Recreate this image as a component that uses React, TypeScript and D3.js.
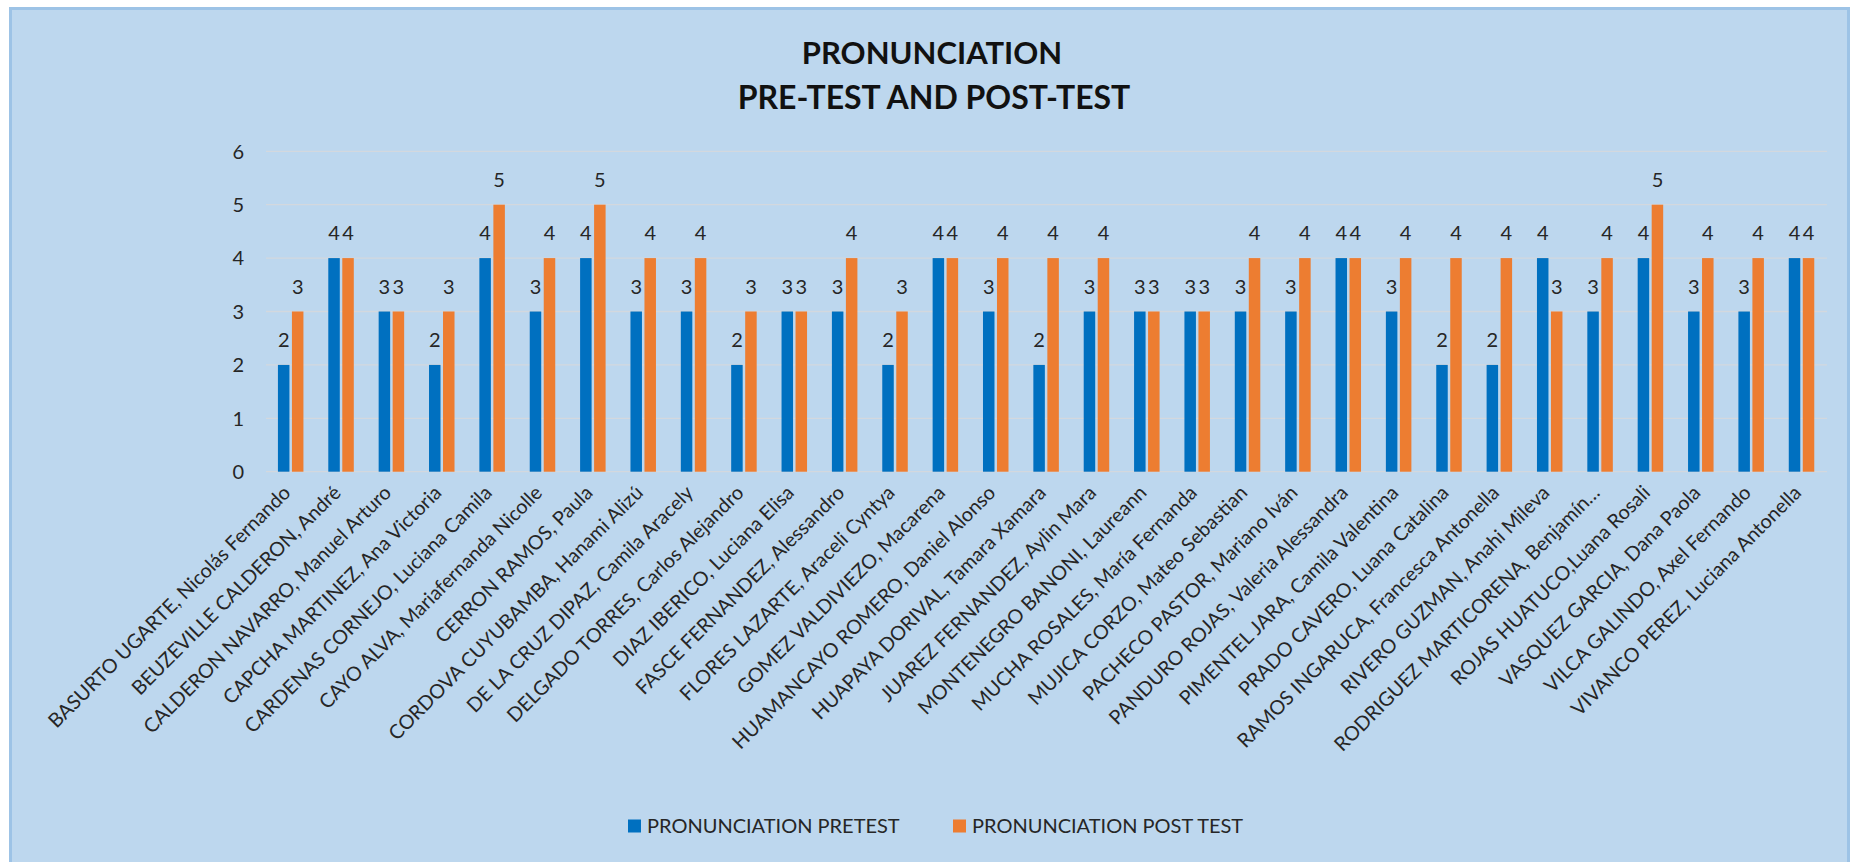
import React from "react";
import * as d3 from "d3";

const categories = [
  "BASURTO UGARTE, Nicolás Fernando",
  "BEUZEVILLE CALDERON, André",
  "CALDERON NAVARRO, Manuel Arturo",
  "CAPCHA MARTINEZ, Ana Victoria",
  "CARDENAS CORNEJO, Luciana Camila",
  "CAYO ALVA, Mariafernanda Nicolle",
  "CERRON RAMOS, Paula",
  "CORDOVA CUYUBAMBA, Hanami Alizú",
  "DE LA CRUZ DIPAZ, Camila Aracely",
  "DELGADO TORRES, Carlos Alejandro",
  "DIAZ IBERICO, Luciana Elisa",
  "FASCE FERNANDEZ, Alessandro",
  "FLORES LAZARTE, Araceli Cyntya",
  "GOMEZ VALDIVIEZO, Macarena",
  "HUAMANCAYO ROMERO, Daniel Alonso",
  "HUAPAYA DORIVAL, Tamara Xamara",
  "JUAREZ FERNANDEZ, Aylin Mara",
  "MONTENEGRO BANONI, Laureann",
  "MUCHA ROSALES, María Fernanda",
  "MUJICA CORZO, Mateo Sebastian",
  "PACHECO PASTOR, Mariano Iván",
  "PANDURO ROJAS, Valeria Alessandra",
  "PIMENTEL JARA, Camila Valentina",
  "PRADO CAVERO, Luana Catalina",
  "RAMOS INGARUCA, Francesca Antonella",
  "RIVERO GUZMAN, Anahi Mileva",
  "RODRIGUEZ MARTICORENA, Benjamín…",
  "ROJAS HUATUCO,Luana Rosali",
  "VASQUEZ GARCIA, Dana Paola",
  "VILCA GALINDO, Axel Fernando",
  "VIVANCO PEREZ, Luciana Antonella",
];

const pretest = [2, 4, 3, 2, 4, 3, 4, 3, 3, 2, 3, 3, 2, 4, 3, 2, 3, 3, 3, 3, 3, 4, 3, 2, 2, 4, 3, 4, 3, 3, 4];
const posttest = [3, 4, 3, 3, 5, 4, 5, 4, 4, 3, 3, 4, 3, 4, 4, 4, 4, 3, 3, 4, 4, 4, 4, 4, 4, 3, 4, 5, 4, 4, 4];
const yTicks = [0, 1, 2, 3, 4, 5, 6];
const seriesNames = ["PRONUNCIATION PRETEST", "PRONUNCIATION POST TEST"];
const titleLines = ["PRONUNCIATION", "PRE-TEST AND POST-TEST"];

const W = 1854;
const H = 862;
const FONT = "Lato, 'Open Sans', sans-serif";
const BLUE = "#0070C0";
const ORANGE = "#ED7D31";
const BG = "#BDD7EE";
const GRID = "#D3D8DE";
const TXT = "#262626";

export default function App() {
  const x = d3.scaleBand<string>().domain(categories).range([265.5, 1826.7]).paddingInner(0).paddingOuter(0);
  const y = d3.scaleLinear().domain([0, 6]).range([471.7, 151.3]);
  const barW = 11.5;
  const off = 7;
  const series = [
    { name: seriesNames[0], values: pretest, color: BLUE, dx: -off },
    { name: seriesNames[1], values: posttest, color: ORANGE, dx: off },
  ];

  return (
    <svg
      width={W}
      height={H}
      style={{ position: "absolute", left: 0, top: 0, display: "block" }}
      xmlns="http://www.w3.org/2000/svg"
    >
      <rect x={0} y={0} width={W} height={H} fill="#ffffff" />
      <rect x={10.5} y={8.5} width={1838} height={H + 20} fill={BG} stroke="#9DC3E6" strokeWidth={3} />

      {/* title */}
      <text x={932} y={64.3} textAnchor="middle" fontFamily={FONT} fontWeight={700} fontSize={31} fill="#111">
        {titleLines[0]}
      </text>
      <text x={934} y={109} textAnchor="middle" fontFamily={FONT} fontWeight={700} fontSize={32} fill="#111">
        {titleLines[1]}
      </text>

      {/* gridlines & y ticks */}
      {yTicks.map((t) => (
        <g key={t}>
          <line x1={266} x2={1827} y1={y(t)} y2={y(t)} stroke={GRID} strokeWidth={1.3} />
          <text
            x={244}
            y={y(t)}
            dy="0.36em"
            textAnchor="end"
            fontFamily={FONT}
            fontSize={20}
            fill={TXT}
          >
            {t}
          </text>
        </g>
      ))}

      {/* bars */}
      {series.map((s) =>
        categories.map((c, i) => {
          const cx = (x(c) as number) + x.bandwidth() / 2 + s.dx;
          return (
            <rect
              key={s.name + i}
              x={cx - barW / 2}
              y={y(s.values[i])}
              width={barW}
              height={y(0) - y(s.values[i])}
              fill={s.color}
            />
          );
        })
      )}

      {/* data labels */}
      {series.map((s) =>
        categories.map((c, i) => {
          const cx = (x(c) as number) + x.bandwidth() / 2 + s.dx;
          return (
            <text
              key={"l" + s.name + i}
              x={cx}
              y={y(s.values[i]) - 18}
              textAnchor="middle"
              fontFamily={FONT}
              fontSize={20}
              fill={TXT}
            >
              {s.values[i]}
            </text>
          );
        })
      )}

      {/* x labels */}
      {categories.map((c) => {
        const cx = (x(c) as number) + x.bandwidth() / 2;
        const ax = cx + 1;
        const ay = 494;
        return (
          <text
            key={"x" + c}
            x={ax}
            y={ay}
            transform={`rotate(-45 ${ax} ${ay})`}
            textAnchor="end"
            fontFamily={FONT}
            fontSize={19.8}
            fill={TXT}
          >
            {c}
          </text>
        );
      })}

      {/* legend */}
      <rect x={628} y={819.5} width={13} height={13} fill={BLUE} />
      <text x={647} y={826} dy="0.36em" fontFamily={FONT} fontSize={20} fill={TXT}>
        {seriesNames[0]}
      </text>
      <rect x={953} y={819.5} width={13} height={13} fill={ORANGE} />
      <text x={972} y={826} dy="0.36em" fontFamily={FONT} fontSize={20} fill={TXT}>
        {seriesNames[1]}
      </text>
    </svg>
  );
}
